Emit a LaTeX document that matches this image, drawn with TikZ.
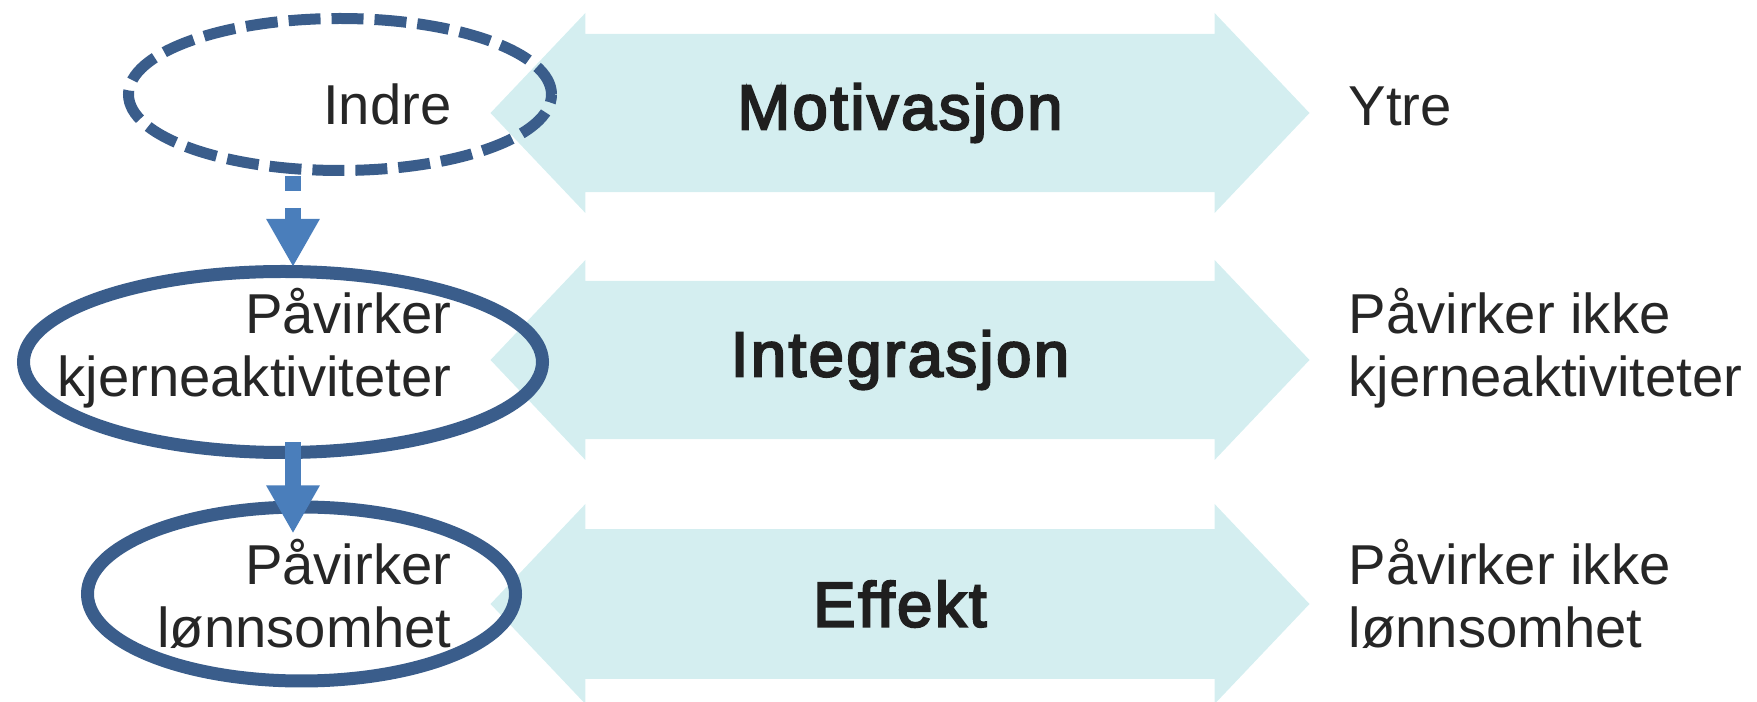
\documentclass[tikz,border=0pt]{standalone}
\usepackage{fontspec}
\setmainfont{Liberation Sans}
\newfontfamily\medfont{Liberation Sans}[FakeBold=3.5,LetterSpace=4]
\usetikzlibrary{shapes.geometric,shapes.arrows,arrows.meta}
\definecolor{ringblue}{HTML}{3A5D8B}
\definecolor{linkblue}{HTML}{4A7EBB}
\definecolor{bandcyan}{HTML}{D4EEF0}
\begin{document}
\begin{tikzpicture}
	\tikzstyle{band}=[double arrow, fill=bandcyan, minimum height=8.19cm, minimum width=2cm, double arrow head extend=0.08cm, double arrow tip angle=93, inner sep=0pt, text=black!88, font=\fontsize{18}{21}\medfont]
	\tikzstyle{ring}=[ellipse, draw=ringblue, line width=0.13cm, inner sep=0pt]
	\tikzstyle{ltext}=[anchor=east, align=right, inner sep=0pt, text=black!85, font=\fontsize{16}{18}\selectfont]
	\tikzstyle{rtext}=[anchor=west, align=left, inner sep=0pt, text=black!85, font=\fontsize{16}{18}\selectfont]
	\tikzstyle{link}=[draw=linkblue, line width=0.16cm, -{Triangle[width=0.5cm,length=0.48cm,fill=linkblue]}]
	\useasboundingbox (0,0) rectangle (17.57,-7.02);
	\begin{scope}
		% the three double arrows
		\node [band] (b1) at (9.0,-1.13) {Motivasjon};
		\node [band] (b2) at (9.0,-3.60) {Integrasjon};
		\node [band] (b3) at (9.0,-6.04) {Effekt};
		% rings on the left
		\node [ring, dash pattern=on 0.32cm off 0.11cm, line width=0.11cm, minimum width=4.23cm, minimum height=1.52cm] (r1) at (3.40,-0.945) {};
		\node [ring, minimum width=5.19cm, minimum height=1.81cm] (r2) at (2.83,-3.62) {};
		\node [ring, minimum width=4.28cm, minimum height=1.74cm] (r3) at (3.015,-5.94) {};
		% texts
		\node [ltext] (l1) at (4.52,-1.04) {Indre};
		\node [ltext] (l2) at (4.52,-3.48) {Påvirker\\kjerneaktiviteter};
		\node [ltext] (l3) at (4.52,-5.94) {Påvirker\\lønnsomhet};
		\node [rtext] (t1) at (13.48,-1.06) {Ytre};
		\node [rtext] (t2) at (13.48,-3.48) {Påvirker ikke\\kjerneaktiviteter};
		\node [rtext] (t3) at (13.48,-5.94) {Påvirker ikke\\lønnsomhet};
		% links between the rings
		\coordinate (ax) at (2.93,0);
		\path[link, dash pattern=on 0.15cm off 0.17cm, shorten >=-0.02cm] (r1.south -| ax) -- (r2.north -| ax);
		\path[link, shorten <=-0.17cm, shorten >=-0.33cm] (r2.south -| ax) -- (r3.north -| ax);
	\end{scope}
\end{tikzpicture}
\end{document}
